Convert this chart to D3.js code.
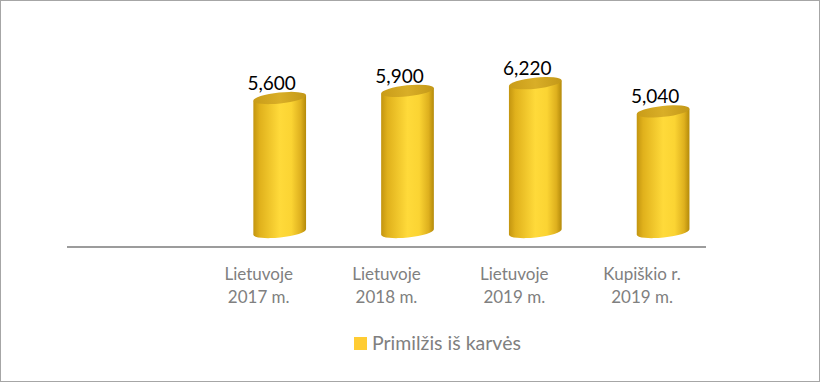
<!DOCTYPE html>
<html><head><meta charset="utf-8">
<script src="https://cdn.jsdelivr.net/npm/d3@7"></script>
<style>body{margin:0;background:#fff}svg{display:block}</style>
</head><body>
<script>
const categories = ["", "Lietuvoje|2017 m.", "Lietuvoje|2018 m.", "Lietuvoje|2019 m.", "Kupiškio r.|2019 m."];
const values = [null, 5600, 5900, 6220, 5040];
const valueLabels = ["", "5,600", "5,900", "6,220", "5,040"];
const seriesName = "Primilžis iš karvės";

const W = 820, H = 382;
const svg = d3.select("body").append("svg").attr("width", W).attr("height", H);
svg.append("rect").attr("x",0.5).attr("y",0.5).attr("width",W-1).attr("height",H-1)
  .attr("fill","#fff").attr("stroke","#a6a6a6");

const x = d3.scaleBand().domain(categories).range([67, 706]);
const y = d3.scaleLinear().domain([0, 7000]).range([232, 64.5]);

const defs = svg.append("defs");
const gb = defs.append("linearGradient").attr("id","body").attr("x1","0").attr("x2","1").attr("y1","0").attr("y2","0");
[[0,"#c39510"],[0.12,"#e0b11c"],[0.5,"#ffda3a"],[0.72,"#fbd433"],[0.9,"#deb01e"],[1,"#b48a0a"]]
  .forEach(([o,c])=>gb.append("stop").attr("offset",o).attr("stop-color",c));
const gt = defs.append("linearGradient").attr("id","top").attr("x1","0").attr("x2","1").attr("y1","0").attr("y2","0");
[[0,"#c99c18"],[0.5,"#d9ae27"],[1,"#c39818"]]
  .forEach(([o,c])=>gt.append("stop").attr("offset",o).attr("stop-color",c));

// axis line
svg.append("line").attr("x1",67).attr("x2",706).attr("y1",247).attr("y2",247)
  .attr("stroke","#9c9c9c").attr("stroke-width",2);

const rx = 26.5, ry = 5.5, rot = -6, dx = 21;
const th = rot*Math.PI/180;
const ox = rx*Math.cos(th), oy = rx*Math.sin(th);

const data = categories.map((c,i)=>({c, v: values[i], lab: valueLabels[i]})).filter(d=>d.v!=null);
const g = svg.append("g");
data.forEach(d=>{
  const cx = x(d.c) + x.bandwidth()/2 + dx;
  const yt = y(d.v), yb = y(0);
  const path = `M${cx-ox},${yt-oy} L${cx-ox},${yb-oy} A${rx},${ry} ${rot} 0 0 ${cx+ox},${yb+oy} L${cx+ox},${yt+oy} Z`;
  g.append("path").attr("d",path).attr("fill","url(#body)");
  g.append("ellipse").attr("cx",cx).attr("cy",yt).attr("rx",rx).attr("ry",ry)
    .attr("transform",`rotate(${rot},${cx},${yt})`).attr("fill","url(#top)");
  g.append("text").attr("x", x(d.c)+x.bandwidth()/2+13).attr("y", yt-8)
    .attr("text-anchor","middle").attr("font-family","Lato, 'Open Sans', sans-serif")
    .attr("font-size",19).attr("fill","#000").text(d.lab);
});

// category labels
categories.forEach(c=>{
  if(!c) return;
  const parts = c.split("|");
  const t = svg.append("text").attr("text-anchor","middle").attr("font-family","Lato, 'Open Sans', sans-serif")
    .attr("font-size",17).attr("fill","#808080");
  parts.forEach((p,i)=>t.append("tspan").attr("x", x(c)+x.bandwidth()/2).attr("y", 280+i*23).text(p));
});

// legend
svg.append("rect").attr("x",354).attr("y",337).attr("width",13).attr("height",13).attr("fill","#ffcc33");
svg.append("text").attr("x",372).attr("y",350).attr("font-family","Lato, 'Open Sans', sans-serif")
  .attr("font-size",19.5).attr("fill","#808080").text(seriesName);
</script>
</body></html>
